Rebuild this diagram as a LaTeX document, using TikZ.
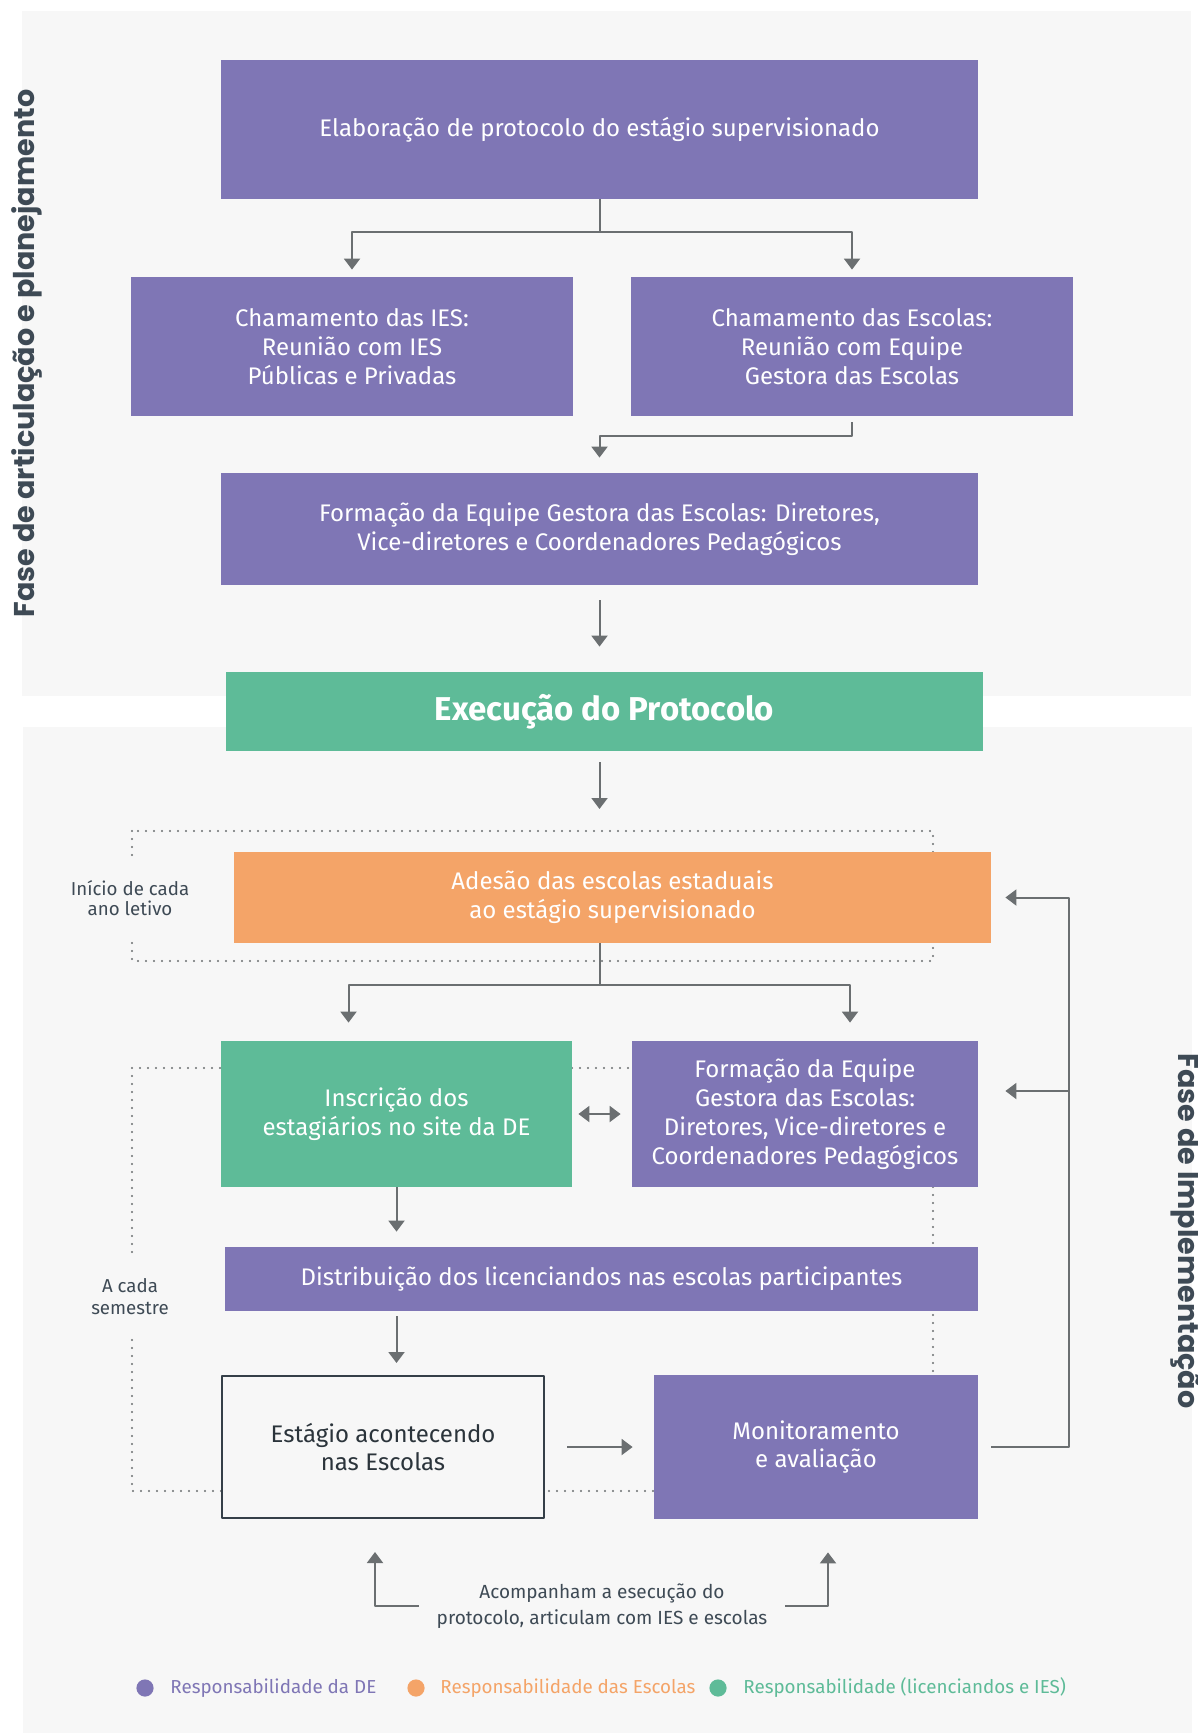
\documentclass[tikz,border=0pt]{standalone}
\usepackage{fontspec}
\setmainfont{Fira Sans}
\newfontfamily\fasefont{Poppins}
\usetikzlibrary{arrows.meta}
\definecolor{roxo}{HTML}{7F76B5}
\definecolor{verde}{HTML}{5EBB98}
\definecolor{laranja}{HTML}{F4A468}
\definecolor{fundo}{HTML}{F7F7F7}
\definecolor{cinza}{HTML}{6B6F71}
\definecolor{escuro}{HTML}{3E4A55}
\begin{document}
\begin{tikzpicture}[x=0.5pt,y=-0.5pt,line join=round,
	caixa/.style={text=white,align=center,inner sep=0pt,font=\fontsize{12}{14.4}\selectfont},
	seta/.style={draw=cinza,line width=1pt,-{Triangle[width=8pt,length=5.5pt]}},
	pontos/.style={draw=cinza,line width=1.1pt,line cap=round,dash pattern=on 0pt off 4pt},
	nota/.style={text=escuro,align=center,font=\fontsize{9.35}{10}\selectfont}]
	\useasboundingbox (0,0) rectangle (1198,1733);
	% fundos das duas fases
	\fill[fundo] (22,11) rectangle (1191,696);
	\fill[fundo] (23,727) rectangle (1192,1733);
	\node[rotate=90,text=escuro,font=\fasefont\bfseries\fontsize{14.3}{14.3}\selectfont] (fase1) at (27,353.5) {Fase de articulação e planejamento};
	\node[rotate=-90,text=escuro,font=\fasefont\bfseries\fontsize{14.3}{14.3}\selectfont] (fase2) at (1185,1231) {Fase de Implementação};
	% retangulos pontilhados
	\coordinate (ano1) at (132,831);
	\coordinate (ano2) at (933,961);
	\coordinate (sem1) at (132,1068);
	\coordinate (sem2) at (933,1491);
	\draw[pontos] (ano1) rectangle (ano2);
	\draw[pontos] (sem1) rectangle (sem2);
	\node[nota,fill=fundo,inner ysep=11pt] (inicio) at (130,898) {Início de cada\\ano letivo};
	\node[nota,fill=fundo,inner ysep=11pt,font=\fontsize{9.35}{11}\selectfont] (semestre) at (130,1297) {A cada\\semestre};
	% caixas
	\node[caixa,fill=roxo,minimum width=378.5pt,minimum height=69.5pt] (elab) at (599.5,129.5) {Elaboração de protocolo do estágio supervisionado};
	\node[caixa,fill=roxo,minimum width=221pt,minimum height=69.5pt] (ies) at (352,346.5) {Chamamento das IES:\\Reunião com IES\\Públicas e Privadas};
	\node[caixa,fill=roxo,minimum width=221pt,minimum height=69.5pt] (esc) at (852,346.5) {Chamamento das Escolas:\\Reunião com Equipe\\Gestora das Escolas};
	\node[caixa,fill=roxo,minimum width=378.5pt,minimum height=56pt] (form1) at (599.5,529) {Formação da Equipe Gestora das Escolas: Diretores,\\Vice-diretores e Coordenadores Pedagógicos};
	\node[caixa,fill=verde,minimum width=378.5pt,minimum height=39.5pt,font=\bfseries\fontsize{16.5}{18}\selectfont] (exec) at (604.5,711.5) {Execução do Protocolo};
	\node[caixa,fill=laranja,minimum width=378.5pt,minimum height=45.5pt] (adesao) at (612.5,897.5) {Adesão das escolas estaduais\\ao estágio supervisionado};
	\node[caixa,fill=verde,minimum width=175.5pt,minimum height=73pt] (insc) at (396.5,1114) {Inscrição dos\\estagiários no site da DE};
	\node[caixa,fill=roxo,minimum width=173pt,minimum height=73pt] (form2) at (805,1114) {Formação da Equipe\\Gestora das Escolas:\\Diretores, Vice-diretores e\\Coordenadores Pedagógicos};
	\node[caixa,fill=roxo,minimum width=376.5pt,minimum height=32pt] (dist) at (601.5,1279) {Distribuição dos licenciandos nas escolas participantes};
	\node[caixa,fill=fundo,draw=escuro!85!black,line width=1pt,text=escuro!70!black,minimum width=161pt,minimum height=71pt] (estagio) at (383,1447) {Estágio acontecendo\\nas Escolas};
	\node[caixa,fill=roxo,minimum width=162pt,minimum height=72pt] (monit) at (816,1447) {Monitoramento\\e avaliação};
	\node[nota,font=\fontsize{9.5}{13}\selectfont] (acomp) at (602,1606) {Acompanham a esecução do\\protocolo, articulam com IES e escolas};
	% setas
	\draw[seta,shorten >=3.5pt] (elab.south) -- ++(0,33) -| (ies.north);
	\draw[seta,shorten >=3.5pt] (elab.south) -- ++(0,33) -| (esc.north);
	\draw[seta,shorten <=3pt,shorten >=7.5pt] (esc.south) -- ++(0,20) -| (form1.north);
	\draw[seta,shorten <=7.5pt,shorten >=12.5pt] (form1.south) -- (form1.south |- exec.north);
	\draw[seta,shorten <=5.5pt,shorten >=11pt] (form1.south |- exec.south) -- (form1.south |- ano1);
	\draw[seta,shorten >=9pt] (form1.south |- adesao.south) -- ++(0,42) -| ([xshift=-24pt]insc.north);
	\draw[seta,shorten >=9pt] (form1.south |- adesao.south) -- ++(0,42) -| ([xshift=22.5pt]form2.north);
	\draw[draw=cinza,line width=1pt,{Triangle[width=8pt,length=5.5pt]}-{Triangle[width=8pt,length=5.5pt]},shorten <=3pt,shorten >=5.5pt] (insc.east) -- (form2.west);
	\draw[seta,shorten >=7.5pt] (insc.south) -- (insc.south |- dist.north);
	\draw[seta,shorten <=2.5pt,shorten >=6pt] (dist.south -| insc.south) -- (estagio.north -| insc.south);
	\draw[seta,shorten <=11pt,shorten >=10.5pt] (estagio.east) -- (monit.west);
	% retorno do monitoramento
	\draw[seta,shorten <=6.5pt,shorten >=7pt] (monit.east) -- ++(91,0) |- (adesao.east);
	\coordinate (volta) at (1069,1091);
	\draw[seta,shorten >=13.5pt] (volta) -- (volta -| form2.east);
	\draw[seta,shorten <=5.5pt,shorten >=16.5pt] (acomp.west) -| ([xshift=-4pt]estagio.south);
	\draw[seta,shorten <=5.5pt,shorten >=16.5pt] (acomp.east) -| ([xshift=6pt]monit.south);
	% legenda
	\fill[roxo] (145,1688) circle[radius=4.3pt];
	\fill[laranja] (416,1688) circle[radius=4.3pt];
	\fill[verde] (718,1688) circle[radius=4.3pt];
	\node[anchor=west,inner sep=0pt,text=roxo,font=\fontsize{9.4}{12}\selectfont] (leg1) at (170,1688) {Responsabilidade da DE};
	\node[anchor=west,inner sep=0pt,text=laranja,font=\fontsize{9.4}{12}\selectfont] (leg2) at (440,1688) {Responsabilidade das Escolas};
	\node[anchor=west,inner sep=0pt,text=verde,font=\fontsize{9.4}{12}\selectfont] (leg3) at (743,1688) {Responsabilidade (licenciandos e IES)};
\end{tikzpicture}
\end{document}
